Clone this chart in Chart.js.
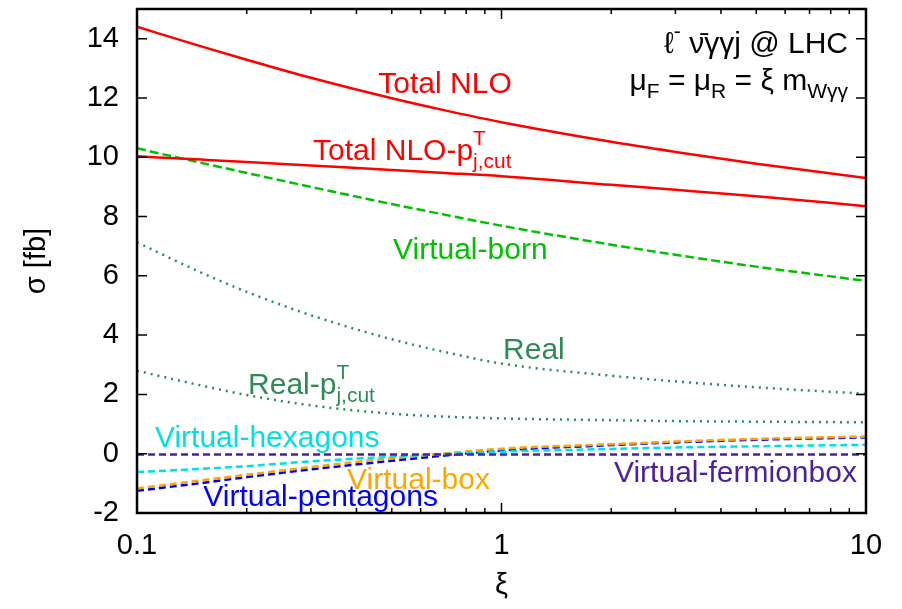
<!DOCTYPE html>
<html>
<head>
<meta charset="utf-8">
<script src="https://cdn.jsdelivr.net/npm/chart.js@4.4.0/dist/chart.umd.min.js"></script>
<style>
  html, body { margin: 0; padding: 0; background: #fff; }
</style>
</head>
<body>
<canvas id="myChart" width="902" height="609"></canvas>
<script>
// scale factor xi = mu / m_Wyy
const xi = [0.1, 0.15, 0.2, 0.3, 0.5, 0.7, 1, 2, 3, 5, 10]

// cross sections in fb
const totalNLO      = [14.4, 13.74, 13.29, 12.68, 11.99, 11.58, 11.18, 10.52, 10.18, 9.78, 9.3]
const totalNLOcut   = [10.03, 9.92, 9.84, 9.72, 9.57, 9.47, 9.36, 9.07, 8.9, 8.68, 8.35]
const virtualBorn   = [10.3, 9.81, 9.47, 9.0, 8.42, 8.06, 7.69, 7.05, 6.71, 6.31, 5.83]
const real          = [7.13, 6.11, 5.46, 4.67, 3.86, 3.43, 3.04, 2.63, 2.44, 2.24, 2.02]
const realCut       = [2.8, 2.3, 1.98, 1.63, 1.35, 1.25, 1.19, 1.13, 1.1, 1.08, 1.06]
const virtHexagons  = [-0.62, -0.51, -0.42, -0.26, -0.1, -0.01, 0.07, 0.16, 0.21, 0.25, 0.3]
const virtBox       = [-1.17, -0.9, -0.71, -0.45, -0.15, 0.01, 0.17, 0.32, 0.41, 0.5, 0.58]
const virtPentagons = [-1.25, -0.99, -0.79, -0.53, -0.24, -0.06, 0.11, 0.29, 0.38, 0.47, 0.55]
const virtFermion   = [-0.03, -0.03, -0.03, -0.03, -0.03, -0.03, -0.03, -0.03, -0.03, -0.03, -0.03]

// axis ticks
const xTicks = [0.1, 0.2, 0.3, 0.4, 0.5, 0.6, 0.7, 0.8, 0.9, 1, 2, 3, 4, 5, 6, 7, 8, 9, 10]
const xMajor = [0.1, 1, 10]
const xTickLabels = ['0.1', '1', '10']
const yTicks = [-2, 0, 2, 4, 6, 8, 10, 12, 14]

const FONT = '"Liberation Sans", Arial, Helvetica, sans-serif'

function pts(ys) {
  return xi.map((x, i) => ({ x: x, y: ys[i] }))
}

function line(label, ys, color, dash) {
  return {
    label: label,
    data: pts(ys),
    borderColor: color,
    borderWidth: 2.5,
    borderDash: dash,
    pointRadius: 0,
    fill: false,
    showLine: true,
    cubicInterpolationMode: 'monotone'
  }
}

// text labels next to the curves (data coordinates)
const curveLabels = [
  { parts: [{ t: 'Total NLO' }], x: 0.70, y: 12.15, align: 'center', color: '#ff0000' },
  { parts: [{ t: 'Total NLO-p' }, { sup: 'T', sub: 'j,cut' }], x: 0.304, y: 9.89, align: 'left', color: '#ff0000' },
  { parts: [{ t: 'Virtual-born' }], x: 0.504, y: 6.58, align: 'left', color: '#00c000' },
  { parts: [{ t: 'Real' }], x: 1.01, y: 3.21, align: 'left', color: '#2e8b57' },
  { parts: [{ t: 'Real-p' }, { sup: 'T', sub: 'j,cut' }], x: 0.2017, y: 2.03, align: 'left', color: '#2e8b57' },
  { parts: [{ t: 'Virtual-hexagons' }], x: 0.112, y: 0.24, align: 'left', color: '#00e0e0' },
  { parts: [{ t: 'Virtual-box' }], x: 0.377, y: -1.18, align: 'left', color: '#ffa500' },
  { parts: [{ t: 'Virtual-pentagons' }], x: 0.152, y: -1.75, align: 'left', color: '#0000ff' },
  { parts: [{ t: 'Virtual-fermionbox' }], x: 9.44, y: -0.94, align: 'right', color: '#4b1f9e' }
]

const TICK = 29
const BIG = 30
const SMALL = 21

function partWidth(ctx, p) {
  if (p.t !== undefined) {
    ctx.font = BIG + 'px ' + FONT
    return ctx.measureText(p.t).width
  }
  ctx.font = SMALL + 'px ' + FONT
  return Math.max(p.sup ? ctx.measureText(p.sup).width : 0, p.sub ? ctx.measureText(p.sub).width : 0)
}

function drawRich(ctx, parts, x, y, align, color) {
  let total = 0
  parts.forEach(p => { total += partWidth(ctx, p) })
  let cx = x
  if (align === 'center') cx = x - total / 2
  if (align === 'right') cx = x - total
  ctx.fillStyle = color
  ctx.textAlign = 'left'
  ctx.textBaseline = 'alphabetic'
  parts.forEach(p => {
    const w = partWidth(ctx, p)
    if (p.t !== undefined) {
      ctx.font = BIG + 'px ' + FONT
      ctx.fillText(p.t, cx, y)
    } else {
      ctx.font = SMALL + 'px ' + FONT
      if (p.sup) ctx.fillText(p.sup, cx, y - 15)
      if (p.sub) ctx.fillText(p.sub, cx, y + 8)
    }
    cx += w
  })
}

const labelsPlugin = {
  id: 'curveLabels',
  afterDatasetsDraw(chart) {
    const { ctx, chartArea: a, scales: { x, y } } = chart
    ctx.save()
    curveLabels.forEach(l => {
      drawRich(ctx, l.parts, x.getPixelForValue(l.x), y.getPixelForValue(l.y), l.align, l.color)
    })
    // process info, top right corner
    drawRich(ctx, [{ t: 'ℓ' }, { sup: '-' }, { t: ' ν̄γγj @ LHC' }], a.right - 18, a.top + 44, 'right', '#000')
    drawRich(ctx, [{ t: 'μ' }, { sub: 'F' }, { t: ' = μ' }, { sub: 'R' }, { t: ' = ξ m' }, { sub: 'Wγγ' }], a.right - 18, a.top + 81, 'right', '#000')
    ctx.restore()
  }
}

// inward tick marks on all four sides plus the frame
const framePlugin = {
  id: 'frameTicks',
  afterDatasetsDraw(chart) {
    const { ctx, chartArea: a, scales: { x, y } } = chart
    ctx.save()
    ctx.strokeStyle = '#000'
    ctx.lineWidth = 1.5
    ctx.beginPath()
    x.ticks.forEach(t => {
      const px = x.getPixelForValue(t.value)
      const len = xMajor.includes(t.value) ? 10 : 5
      ctx.moveTo(px, a.bottom); ctx.lineTo(px, a.bottom - len)
      ctx.moveTo(px, a.top); ctx.lineTo(px, a.top + len)
    })
    y.ticks.forEach(t => {
      const py = y.getPixelForValue(t.value)
      ctx.moveTo(a.left, py); ctx.lineTo(a.left + 10, py)
      ctx.moveTo(a.right, py); ctx.lineTo(a.right - 10, py)
    })
    ctx.stroke()
    ctx.lineWidth = 2.5
    ctx.strokeRect(a.left, a.top, a.right - a.left, a.bottom - a.top)
    ctx.restore()
  }
}

new Chart('myChart', {
  type: 'scatter',
  data: {
    datasets: [
      line('Total NLO', totalNLO, '#ff0000', []),
      line('Total NLO-pT j,cut', totalNLOcut, '#ff0000', []),
      line('Virtual-born', virtualBorn, '#00c000', [9, 4]),
      line('Real', real, '#2e8b57', [2, 5]),
      line('Real-pT j,cut', realCut, '#2e8b57', [2, 5]),
      line('Virtual-fermionbox', virtFermion, '#4b1f9e', [7, 4]),
      line('Virtual-hexagons', virtHexagons, '#00e0e0', [7, 4]),
      line('Virtual-box', virtBox, '#ffa500', [7, 4]),
      line('Virtual-pentagons', virtPentagons, '#0000ff', [7, 4])
    ]
  },
  options: {
    responsive: false,
    animation: false,
    layout: { padding: { left: 0, right: 36, top: 9, bottom: 0 } },
    plugins: {
      legend: { display: false },
      tooltip: { enabled: false }
    },
    scales: {
      x: {
        type: 'logarithmic',
        min: 0.1,
        max: 10,
        grid: { display: false, drawTicks: false },
        border: { display: false },
        afterBuildTicks: s => { s.ticks = xTicks.map(v => ({ value: v })) },
        afterFit: s => { s.height = 96; s.paddingLeft = 0; s.paddingRight = 0 },
        ticks: {
          autoSkip: false,
          maxRotation: 0,
          padding: 16,
          color: '#000',
          font: { family: FONT, size: TICK },
          callback: v => {
            const i = xMajor.indexOf(v)
            return i >= 0 ? xTickLabels[i] : ''
          }
        },
        title: {
          display: true,
          text: 'ξ',
          color: '#000',
          font: { family: FONT, size: TICK },
          padding: { top: 0, bottom: 6 }
        }
      },
      y: {
        min: -2,
        max: 15,
        grid: { display: false, drawTicks: false },
        border: { display: false },
        afterBuildTicks: s => { s.ticks = yTicks.map(v => ({ value: v })) },
        afterFit: s => { s.width = 137; s.paddingTop = 0; s.paddingBottom = 0 },
        ticks: {
          padding: 18,
          color: '#000',
          font: { family: FONT, size: TICK }
        },
        title: {
          display: true,
          text: 'σ [fb]',
          color: '#000',
          font: { family: FONT, size: TICK },
          padding: { top: 20, bottom: 0 }
        }
      }
    }
  },
  plugins: [framePlugin, labelsPlugin]
})
</script>
</body>
</html>
